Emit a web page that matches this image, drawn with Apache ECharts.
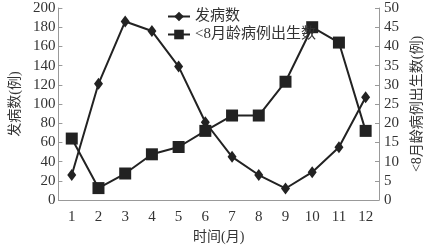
<!DOCTYPE html>
<html><head><meta charset="utf-8">
<script src="https://cdn.jsdelivr.net/npm/echarts@6/dist/echarts.min.js"></script>
<style>html,body{margin:0;padding:0;background:#fff}#c{width:432px;height:249px}</style>
</head><body><div id="c"></div>
<script>
const months = ['1','2','3','4','5','6','7','8','9','10','11','12'];
const cases = [26, 121, 186, 176, 139, 81, 45, 26, 12, 29, 55, 107];
const births = [16, 3.1, 6.9, 11.9, 13.8, 18, 22, 22, 30.8, 45, 41, 18];
const seriesNames = ['发病数', '<8月龄病例出生数'];
const font = '"Liberation Serif", "Noto Sans CJK SC", serif';
const textColor = '#333';
const axisColor = '#999';
const chart = echarts.init(document.getElementById('c'));
chart.setOption({
  backgroundColor: '#fff',
  animation: false,
  textStyle: {fontFamily: font, color: textColor},
  grid: {left: 48, right: 43, top: 8, bottom: 41},
  legend: {
    orient: 'vertical', left: 162, top: 4, itemGap: 3, itemWidth: 22, itemHeight: 12,
    textStyle: {fontFamily: font, fontSize: 15, color: textColor},
    data: seriesNames
  },
  xAxis: {
    type: 'category', data: months, boundaryGap: true,
    name: '时间(月)', nameLocation: 'middle', nameGap: 30,
    nameTextStyle: {fontFamily: font, fontSize: 14, color: textColor},
    axisLine: {lineStyle: {color: axisColor}},
    axisTick: {inside: true, length: 4, lineStyle: {color: axisColor}},
    axisLabel: {fontFamily: font, fontSize: 15, color: textColor, margin: 10},
    splitLine: {show: false}
  },
  yAxis: [{
    type: 'value', min: 0, max: 200, interval: 20,
    name: '发病数(例)', nameLocation: 'middle', nameGap: 35, nameRotate: 90,
    nameTextStyle: {fontFamily: font, fontSize: 14, color: textColor},
    axisLine: {show: true, lineStyle: {color: axisColor}},
    axisTick: {show: true, inside: true, length: 4, lineStyle: {color: axisColor}},
    axisLabel: {fontFamily: font, fontSize: 15, color: textColor, margin: 3},
    splitLine: {show: false}
  }, {
    type: 'value', min: 0, max: 50, interval: 5, position: 'right',
    name: '<8月龄病例出生数(例)', nameLocation: 'middle', nameGap: 31, nameRotate: 90,
    nameTextStyle: {fontFamily: font, fontSize: 14, color: textColor},
    axisLine: {show: true, lineStyle: {color: axisColor}},
    axisTick: {show: true, inside: true, length: 4, lineStyle: {color: axisColor}},
    axisLabel: {fontFamily: font, fontSize: 15, color: textColor, margin: 5},
    splitLine: {show: false}
  }],
  series: [{
    name: seriesNames[0], type: 'line', yAxisIndex: 0, data: cases,
    symbol: 'diamond', symbolSize: [9, 12], showAllSymbol: true,
    lineStyle: {color: '#222', width: 2}, itemStyle: {color: '#222'}
  }, {
    name: seriesNames[1], type: 'line', yAxisIndex: 1, data: births,
    symbol: 'rect', symbolSize: 12, showAllSymbol: true,
    lineStyle: {color: '#222', width: 2}, itemStyle: {color: '#222'}
  }]
});
</script></body></html>
